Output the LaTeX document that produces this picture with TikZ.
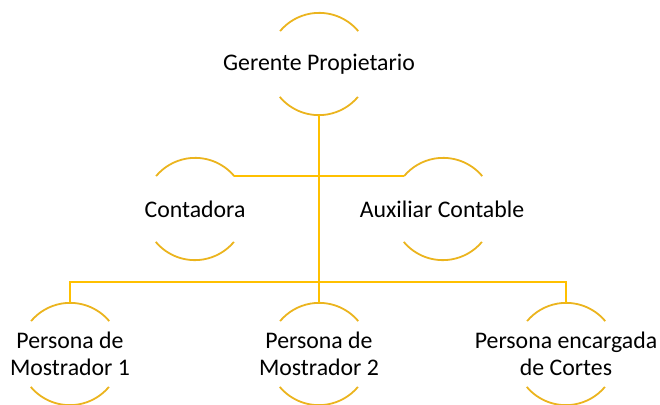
\documentclass[tikz,border=0pt]{standalone}
\usepackage{fontspec}
\setmainfont{Carlito}
\definecolor{gold}{HTML}{FFC000}
\definecolor{ringgold}{HTML}{EBB41E}
\begin{document}
\begin{tikzpicture}[x=1pt,y=1pt,
  ring/.style={circle,draw=none,minimum size=102pt,inner sep=0pt},
  label/.style={align=center,inner sep=0pt,font=\fontsize{23.8}{27}\selectfont,text=black},
  conn/.style={draw=gold,line width=2pt},
  arcline/.style={draw=ringgold,line width=1.8pt}]
\useasboundingbox (0,-404) rectangle (660,0);
% rings
\node[ring] (gc) at (319,-64) {};
\node[ring] (cc) at (195,-209) {};
\node[ring] (ac) at (443,-209) {};
\node[ring] (p1c) at (70,-354) {};
\node[ring] (p2c) at (319,-354) {};
\node[ring] (p3c) at (566,-354) {};
\foreach \n in {gc,cc,ac,p1c,p2c,p3c}{
  \draw[arcline] (\n.40) arc[start angle=40,end angle=140,radius=51pt];
  \draw[arcline] (\n.220) arc[start angle=220,end angle=320,radius=51pt];
}
% texts
\node[label] (g) at (319,-64) {Gerente Propietario};
\node[label] (c) at (195,-209) {Contadora};
\node[label] (a) at (442,-209) {Auxiliar Contable};
\node[label] (p1) at (70,-354) {Persona de\\Mostrador 1};
\node[label] (p2) at (319,-354) {Persona de\\Mostrador 2};
\node[label] (p3) at (566,-354) {Persona encargada\\de Cortes};
% connectors
\coordinate (bar) at (319,-282);
\draw[conn] (gc.south) -- (bar);
\draw[conn] (cc.40) -- (ac.140);
\draw[conn] (p1c.north) |- (bar) -| (p3c.north);
\draw[conn] (p2c.north) -- (bar);
\end{tikzpicture}
\end{document}
